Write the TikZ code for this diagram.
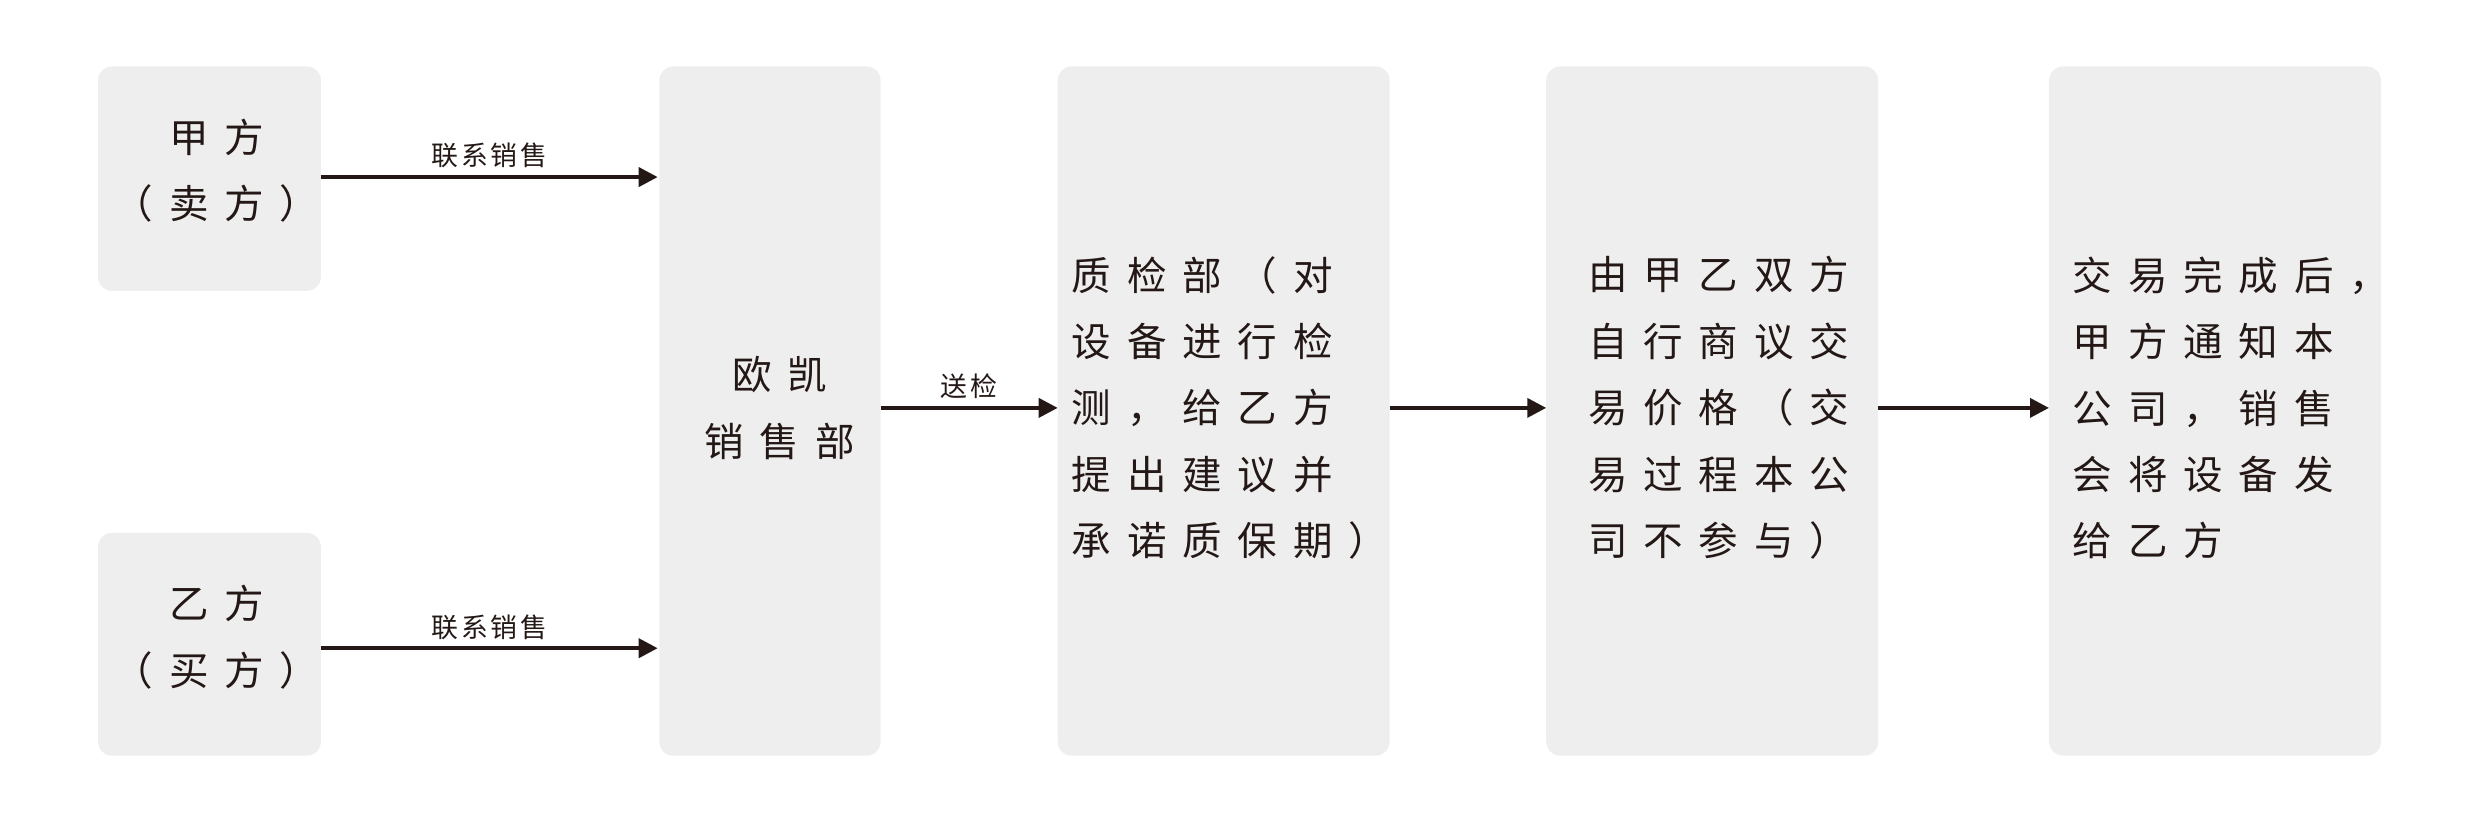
\documentclass[tikz,border=0pt]{standalone}
\usepackage{fontspec}
\newfontfamily\cjk[LetterSpace=40]{Noto Sans CJK SC}
\newfontfamily\cjks[LetterSpace=10]{Noto Sans CJK SC}
\usetikzlibrary{arrows.meta}
\definecolor{boxgray}{HTML}{EEEEEE}
\definecolor{ink}{HTML}{231815}
\tikzset{
 box/.style={fill=boxgray,rounded corners=9pt,draw=none},
 txt/.style={font=\cjk\fontsize{25}{42}\selectfont,text=ink,align=center},
 lbl/.style={font=\cjks\fontsize{17}{20}\selectfont,text=ink},
 arr/.style={draw=ink,line width=2.4pt,-{Triangle[length=12pt,width=12pt]}}
}
\begin{document}
\begin{tikzpicture}[x=1pt,y=-1pt]
\useasboundingbox (0,0) rectangle (1568,516);
\fill[box] (62,42) rectangle (203,184);
\fill[box] (62,337) rectangle (203,478);
\fill[box] (417,42) rectangle (557,478);
\fill[box] (669,42) rectangle (879,478);
\fill[box] (978,42) rectangle (1188,478);
\fill[box] (1296,42) rectangle (1506,478);
\node[txt] (a) at (137,108) {甲方\\（卖方）};
\node[txt] (b) at (137,403) {乙方\\（买方）};
\node[txt] (c) at (493,258) {欧凯\\销售部};
\node[txt,align=left] (d) at (778,258) {质检部（对\\设备进行检\\测，给乙方\\提出建议并\\承诺质保期）};
\node[txt,align=left] (e) at (1087,258) {由甲乙双方\\自行商议交\\易价格（交\\易过程本公\\司不参与）};
\node[txt,align=left] (f) at (1411,258) {交易完成后，\\甲方通知本\\公司，销售\\会将设备发\\给乙方};
\coordinate (a1) at (203,112); \coordinate (c1) at (416,112);
\coordinate (b1) at (203,410); \coordinate (c2) at (416,410);
\draw[arr] (a1) -- node[lbl,above=1pt]{联系销售} (c1);
\draw[arr] (b1) -- node[lbl,above=1pt]{联系销售} (c2);
\coordinate (c3) at (557,258); \coordinate (d1) at (669,258);
\coordinate (d2) at (879,258); \coordinate (e1) at (978,258);
\coordinate (e2) at (1188,258); \coordinate (f1) at (1296,258);
\draw[arr] (c3) -- node[lbl,above=1pt]{送检} (d1);
\draw[arr] (d2) -- (e1);
\draw[arr] (e2) -- (f1);
\end{tikzpicture}
\end{document}
